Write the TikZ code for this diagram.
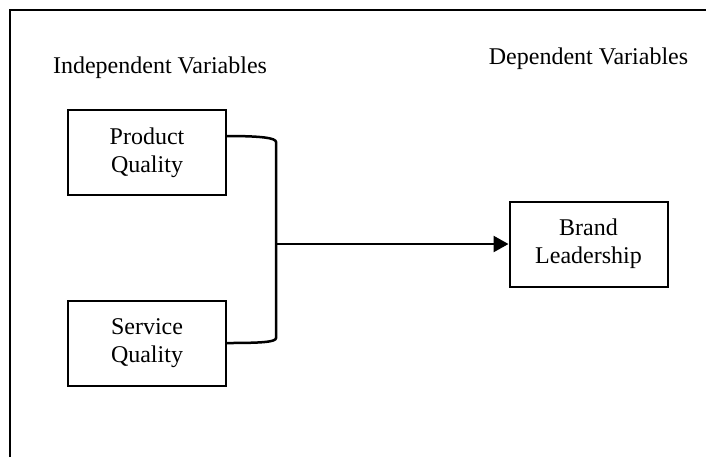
\documentclass[tikz,border=0pt]{standalone}
\usepackage{fontspec}
\setmainfont{Liberation Serif}
\usetikzlibrary{positioning, arrows.meta, calc}

\begin{document}
\begin{tikzpicture}[
    x=0.5pt, y=-0.5pt,
    every node/.style={font=\fontsize{12}{13.8}\selectfont},
    varbox/.style={rectangle, draw, line width=1pt, minimum width=79pt, minimum height=42.5pt, align=center, inner sep=0pt},
    heading/.style={anchor=base},
    link/.style={line width=1.25pt},
    arrow/.style={-{Triangle[length=7.5pt, width=8pt]}, line width=1.25pt}
]
\useasboundingbox (0,0) rectangle (706,457);

% Frame, cut off on the right and at the bottom
\draw[line width=1.1pt] (10,457) -- (10,10) -- (706,10);

% Headings
\node[heading] (indep) at (160,73) {Independent Variables};
\node[heading] (dep) at (588.5,64) {Dependent Variables};

% Variables
\node[varbox] (prod) at (147,152.5) {Product\\Quality};
\node[varbox] (serv) at (147,343) {Service\\Quality};
\node[varbox] (brand) at (588.5,244) {Brand\\Leadership};

% Bracket joining the two independent variables
\coordinate (upper) at (276,142);
\coordinate (lower) at (276,338);
\coordinate (join) at (276,244);
\draw[link] ([yshift=8.25pt]prod.east) .. controls +(35,0) and +(0,-4) .. (upper) -- (lower) .. controls +(0,4) and +(35,0) .. (serv.east);

% Effect on the dependent variable
\draw[arrow] (join) -- (brand.west);

\end{tikzpicture}
\end{document}
